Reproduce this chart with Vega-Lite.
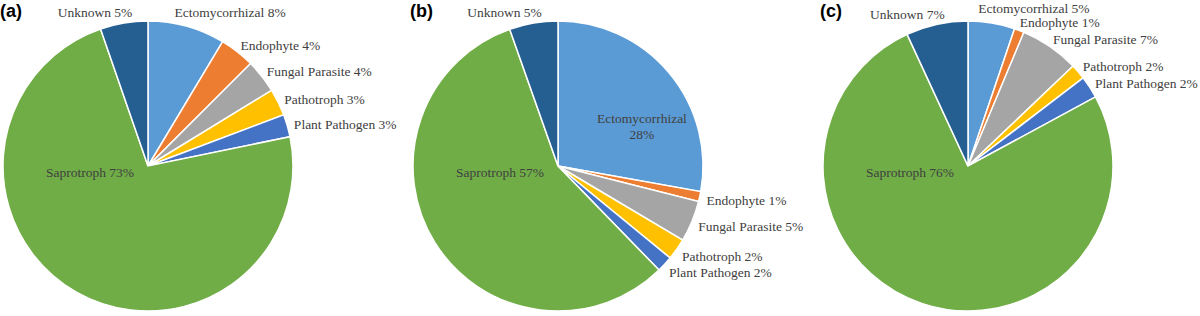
{
  "$schema": "https://vega.github.io/schema/vega-lite/v6.json",
  "padding": {"left": 0, "top": 2, "right": 0, "bottom": 0},
  "bounds": "flush",
  "spacing": 114,
  "data": {"values": [
    {"panel": "(a)", "category": "Ectomycorrhizal", "pct": 8.6, "label": "Ectomycorrhizal 8%"},
    {"panel": "(a)", "category": "Endophyte", "pct": 3.9, "label": "Endophyte 4%"},
    {"panel": "(a)", "category": "Fungal Parasite", "pct": 3.75, "label": "Fungal Parasite 4%"},
    {"panel": "(a)", "category": "Pathotroph", "pct": 3.0, "label": "Pathotroph 3%"},
    {"panel": "(a)", "category": "Plant Pathogen", "pct": 2.5, "label": "Plant Pathogen 3%"},
    {"panel": "(a)", "category": "Saprotroph", "pct": 72.9, "label": "Saprotroph 73%"},
    {"panel": "(a)", "category": "Unknown", "pct": 5.3, "label": "Unknown 5%"},
    {"panel": "(b)", "category": "Ectomycorrhizal", "pct": 27.8, "label": "Ectomycorrhizal\n28%"},
    {"panel": "(b)", "category": "Endophyte", "pct": 1.1, "label": "Endophyte 1%"},
    {"panel": "(b)", "category": "Fungal Parasite", "pct": 4.6, "label": "Fungal Parasite 5%"},
    {"panel": "(b)", "category": "Pathotroph", "pct": 2.4, "label": "Pathotroph 2%"},
    {"panel": "(b)", "category": "Plant Pathogen", "pct": 1.8, "label": "Plant Pathogen 2%"},
    {"panel": "(b)", "category": "Saprotroph", "pct": 56.8, "label": "Saprotroph 57%"},
    {"panel": "(b)", "category": "Unknown", "pct": 5.4, "label": "Unknown 5%"},
    {"panel": "(c)", "category": "Ectomycorrhizal", "pct": 5.2, "label": "Ectomycorrhizal 5%"},
    {"panel": "(c)", "category": "Endophyte", "pct": 1.1, "label": "Endophyte 1%"},
    {"panel": "(c)", "category": "Fungal Parasite", "pct": 6.6, "label": "Fungal Parasite 7%"},
    {"panel": "(c)", "category": "Pathotroph", "pct": 1.7, "label": "Pathotroph 2%"},
    {"panel": "(c)", "category": "Plant Pathogen", "pct": 2.5, "label": "Plant Pathogen 2%"},
    {"panel": "(c)", "category": "Saprotroph", "pct": 76.0, "label": "Saprotroph 76%"},
    {"panel": "(c)", "category": "Unknown", "pct": 6.9, "label": "Unknown 7%"}
  ]},
  "facet": {
    "column": {
      "field": "panel", "type": "nominal", "title": null,
      "header": {
        "labelOrient": "top", "labelAnchor": "start", "labelAlign": "left",
        "labelFont": "Liberation Sans", "labelFontWeight": "bold", "labelFontSize": 18,
        "labelColor": "#000000", "labelPadding": 0, "labelBaseline": "top"
      }
    }
  },
  "spec": {
    "width": 296,
    "height": 290,
    "encoding": {
      "theta": {"field": "pct", "type": "quantitative", "stack": "normalize", "scale": {"domain": [0, 1]}},
      "order": {"field": "category", "type": "nominal", "sort": "ascending"}
    },
    "layer": [
      {
        "mark": {"type": "arc", "stroke": "#ffffff", "strokeWidth": 1.5},
        "encoding": {
          "color": {
            "field": "category", "type": "nominal", "legend": null,
            "scale": {
              "domain": ["Ectomycorrhizal", "Endophyte", "Fungal Parasite", "Pathotroph", "Plant Pathogen", "Saprotroph", "Unknown"],
              "range": ["#5B9BD5", "#ED7D31", "#A5A5A5", "#FFC000", "#4472C4", "#70AD47", "#255E91"]
            }
          }
        }
      },
      {
        "mark": {"type": "text", "radius": 155, "align": "left", "baseline": "middle", "dx": -3, "dy": 2, "font": "Liberation Serif", "fontSize": 13.5, "color": "#404040"},
        "encoding": {
          "detail": {"field": "category", "type": "nominal"},
          "text": {"condition": {"test": "datum.pct < 10 && datum.category != 'Unknown' && datum.category != 'Ectomycorrhizal'", "field": "label"}, "value": ""}
        }
      },
      {
        "mark": {"type": "text", "radius": 155, "align": "left", "baseline": "middle", "dx": -15, "dy": -4, "font": "Liberation Serif", "fontSize": 13.5, "color": "#404040"},
        "encoding": {
          "detail": {"field": "category", "type": "nominal"},
          "text": {"condition": {"test": "datum.pct < 10 && datum.category == 'Ectomycorrhizal'", "field": "label"}, "value": ""}
        }
      },
      {
        "mark": {"type": "text", "radius": 155, "align": "right", "baseline": "middle", "dx": 10, "font": "Liberation Serif", "fontSize": 13.5, "color": "#404040"},
        "encoding": {
          "detail": {"field": "category", "type": "nominal"},
          "text": {"condition": {"test": "datum.category == 'Unknown'", "field": "label"}, "value": ""}
        }
      },
      {
        "mark": {"type": "text", "radius": 82, "align": "center", "baseline": "middle", "dx": 21, "dy": 6, "lineBreak": "\n", "lineHeight": 16, "font": "Liberation Serif", "fontSize": 13.5, "color": "#404040"},
        "encoding": {
          "detail": {"field": "category", "type": "nominal"},
          "text": {"condition": {"test": "datum.pct >= 10 && datum.category == 'Ectomycorrhizal'", "field": "label"}, "value": ""}
        }
      },
      {
        "mark": {"type": "text", "radius": 0, "align": "center", "baseline": "middle", "dx": -58, "dy": 7, "font": "Liberation Serif", "fontSize": 13.5, "color": "#404040"},
        "encoding": {
          "detail": {"field": "category", "type": "nominal"},
          "text": {"condition": {"test": "datum.category == 'Saprotroph'", "field": "label"}, "value": ""}
        }
      }
    ]
  },
  "config": {"view": {"stroke": null}}
}
